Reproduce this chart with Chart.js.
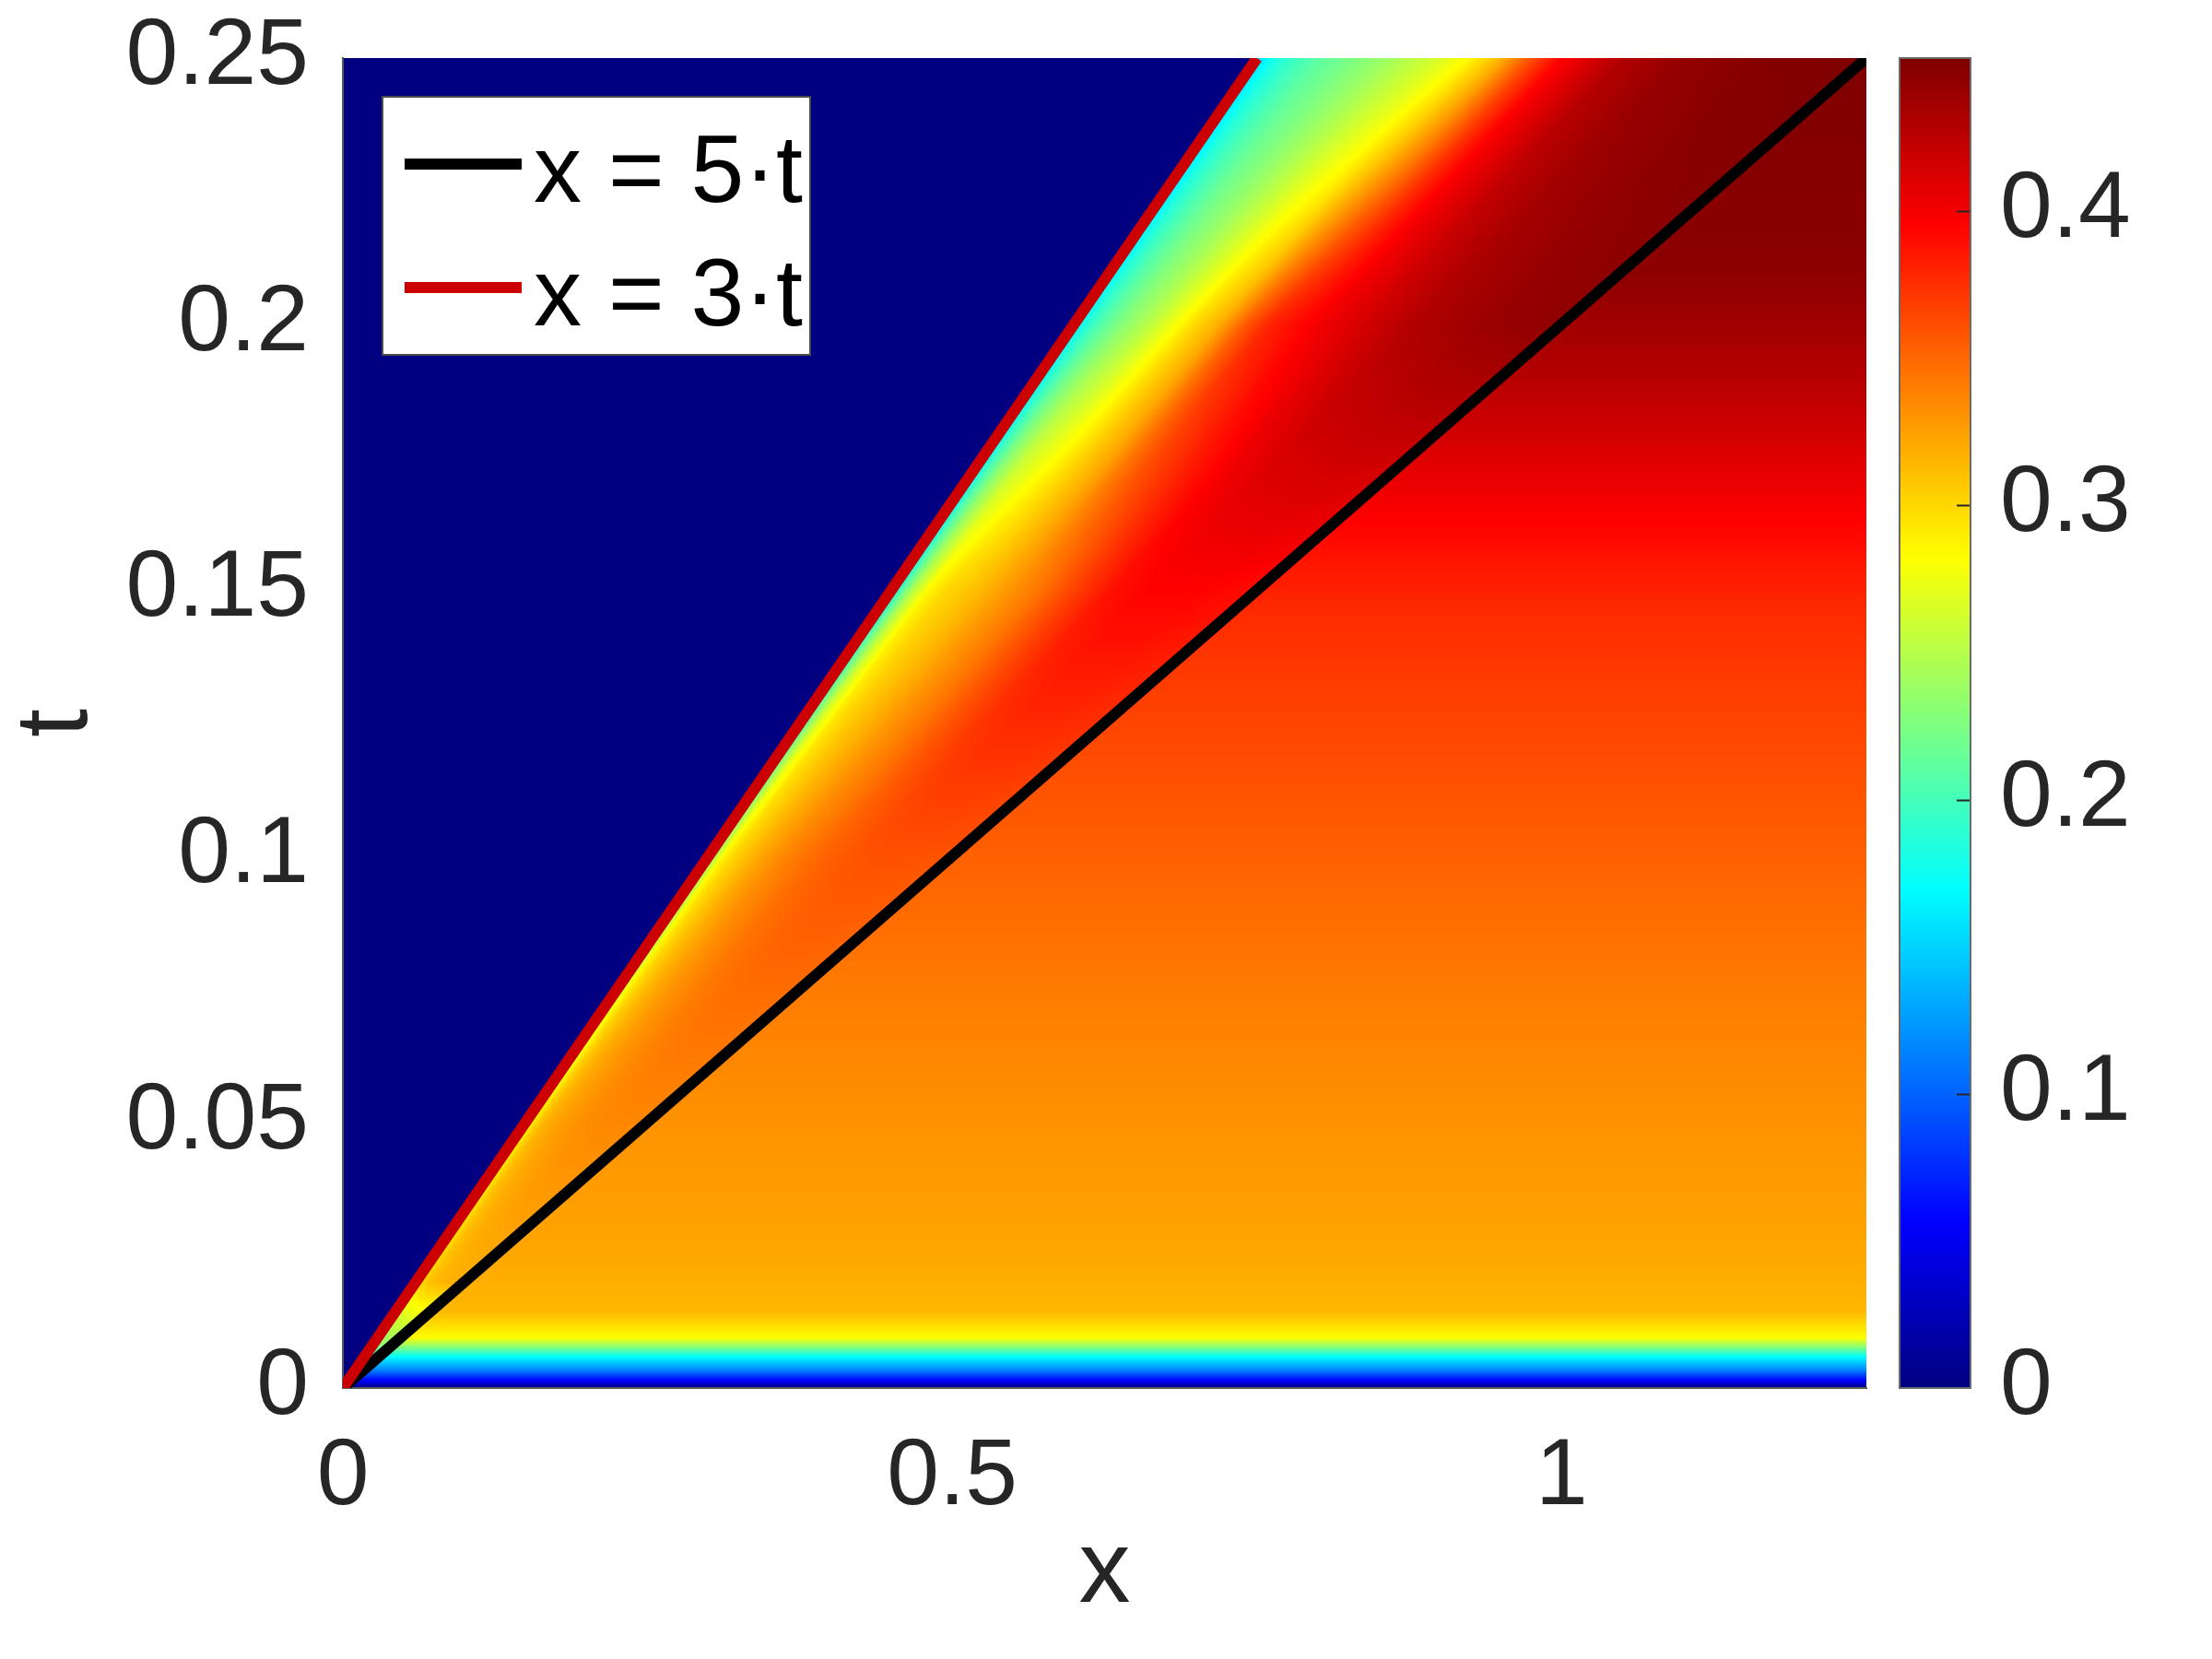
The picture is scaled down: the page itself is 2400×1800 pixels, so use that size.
<!DOCTYPE html>
<html>
<head>
<meta charset="utf-8">
<script src="https://cdn.jsdelivr.net/npm/chart.js@4.4.0/dist/chart.umd.min.js"></script>
<style>
  html, body { margin: 0; padding: 0; background: #fff; }
  #wrap { width: 2400px; height: 1800px; }
</style>
</head>
<body>
<div id="wrap"><canvas id="chart" width="2400" height="1800"></canvas></div>
<script>
// axes
const xRange = [0, 1.25];
const tRange = [0, 0.25];
const cRange = [0, 0.452];
const xTicks = [0, 0.5, 1];
const tTicks = [0, 0.05, 0.1, 0.15, 0.2, 0.25];
const cTicks = [0, 0.1, 0.2, 0.3, 0.4];

// the two reference lines
const line5t = [{x: 0, y: 0}, {x: 1.25, y: 0.25}];
const line3t = [{x: 0, y: 0}, {x: 0.75, y: 0.25}];

// u(t) to the right of x = 5t (no change along x there)
const bandT = [0, 0.0014, 0.0033, 0.0059, 0.0076, 0.0095, 0.0144, 0.025, 0.05, 0.075, 0.1, 0.125, 0.145, 0.155, 0.165, 0.175, 0.19, 0.21, 0.25];
const bandU = [0, 0.056, 0.113, 0.17, 0.226, 0.283, 0.314, 0.322, 0.331, 0.341, 0.353, 0.365, 0.376, 0.386, 0.398, 0.41, 0.428, 0.446, 0.452];

// u inside the fan 3t < x < 5t, read along s = (x - 3t) / 2t
const fanS = [0, 0.01, 0.03, 0.06, 0.1, 0.15, 0.2, 0.25, 0.3, 0.35, 0.4, 0.45, 0.5, 0.6, 0.7, 0.85, 1];
const fanT = [0, 0.008, 0.02, 0.05, 0.1, 0.15, 0.2, 0.25];
const fanAt000 = [0, 0, 0, 0, 0, 0, 0, 0, 0, 0, 0, 0, 0, 0, 0, 0, 0];
const fanAt008 = [0.1, 0.13, 0.17, 0.2, 0.215, 0.222, 0.226, 0.228, 0.229, 0.23, 0.231, 0.232, 0.232, 0.233, 0.234, 0.235, 0.235];
const fanAt020 = [0.14, 0.18, 0.24, 0.275, 0.29, 0.3, 0.305, 0.308, 0.31, 0.312, 0.313, 0.314, 0.315, 0.316, 0.317, 0.318, 0.318];
const fanAt050 = [0.15, 0.2, 0.26, 0.29, 0.305, 0.315, 0.32, 0.323, 0.326, 0.328, 0.33, 0.332, 0.333, 0.335, 0.336, 0.336, 0.335];
const fanAt100 = [0.15, 0.19, 0.25, 0.285, 0.3, 0.31, 0.32, 0.328, 0.335, 0.34, 0.345, 0.35, 0.353, 0.358, 0.36, 0.36, 0.358];
const fanAt150 = [0.15, 0.17, 0.21, 0.25, 0.285, 0.3, 0.307, 0.315, 0.325, 0.334, 0.343, 0.355, 0.367, 0.388, 0.395, 0.395, 0.39];
const fanAt200 = [0.15, 0.17, 0.19, 0.21, 0.23, 0.25, 0.275, 0.3, 0.32, 0.355, 0.38, 0.39, 0.4, 0.415, 0.43, 0.44, 0.445];
const fanAt250 = [0.15, 0.16, 0.18, 0.195, 0.21, 0.222, 0.235, 0.25, 0.265, 0.285, 0.315, 0.36, 0.395, 0.43, 0.443, 0.45, 0.452];
const fanRows = [fanAt000, fanAt008, fanAt020, fanAt050, fanAt100, fanAt150, fanAt200, fanAt250];

const FONT = '"Liberation Sans", Arial, sans-serif';
const TXT = '#262626';

function interp(xs, ys, v) {
  const n = xs.length;
  if (v <= xs[0]) return ys[0];
  if (v >= xs[n - 1]) return ys[n - 1];
  let i = 1;
  while (xs[i] < v) i++;
  const f = (v - xs[i - 1]) / (xs[i] - xs[i - 1]);
  return ys[i - 1] + f * (ys[i] - ys[i - 1]);
}

// jet colormap lookup
const JET = [];
for (let k = 0; k < 1024; k++) {
  const v = k / 1023;
  const c = a => Math.round(255 * Math.max(0, Math.min(1, a)));
  JET.push([c(1.5 - Math.abs(4 * v - 3)), c(1.5 - Math.abs(4 * v - 2)), c(1.5 - Math.abs(4 * v - 1))]);
}
function jet(u) {
  let v = (u - cRange[0]) / (cRange[1] - cRange[0]);
  v = Math.max(0, Math.min(1, v));
  return JET[Math.round(v * 1023)];
}

function fieldAt(xv, t, ub, row) {
  if (xv <= 3 * t) return 0;
  if (xv >= 5 * t) return ub;
  return interp(fanS, row, (xv - 3 * t) / (2 * t));
}

const heatmap = {
  id: 'heatmap',
  beforeDraw(chart) {
    const {ctx, chartArea: a, scales: {x, y}} = chart;
    const left = Math.round(a.left), top = Math.round(a.top);
    const w = Math.round(a.right) - left, h = Math.round(a.bottom) - top;
    const img = ctx.createImageData(w, h);
    const d = img.data;
    const xs = new Float64Array(w);
    for (let i = 0; i < w; i++) xs[i] = x.getValueForPixel(left + i + 0.5);
    const fanCols = fanS.map((_, k) => fanRows.map(r => r[k]));
    const row = new Array(fanS.length);
    for (let j = 0; j < h; j++) {
      const t = y.getValueForPixel(top + j + 0.5);
      const ub = interp(bandT, bandU, t);
      for (let k = 0; k < fanS.length; k++) row[k] = interp(fanT, fanCols[k], t);
      for (let i = 0; i < w; i++) {
        const c = jet(fieldAt(xs[i], t, ub, row));
        const p = (j * w + i) * 4;
        d[p] = c[0]; d[p + 1] = c[1]; d[p + 2] = c[2]; d[p + 3] = 255;
      }
    }
    ctx.putImageData(img, left, top);
  }
};

const colorbar = {
  id: 'colorbar',
  afterDraw(chart) {
    const {ctx, scales: {cb}} = chart;
    const x0 = cb.left + 36, bw = 77;
    const yTop = Math.round(cb.getPixelForValue(cRange[1]));
    const yBot = Math.round(cb.getPixelForValue(cRange[0]));
    ctx.save();
    for (let py = yTop; py < yBot; py++) {
      const c = jet(cb.getValueForPixel(py + 0.5));
      ctx.fillStyle = `rgb(${c[0]},${c[1]},${c[2]})`;
      ctx.fillRect(x0, py, bw, 1);
    }
    ctx.strokeStyle = TXT;
    ctx.lineWidth = 2;
    cTicks.forEach(v => {
      const py = Math.round(cb.getPixelForValue(v)) + 0.5;
      if (v === cRange[0]) return;
      ctx.beginPath();
      ctx.moveTo(x0 + bw - 15, py);
      ctx.lineTo(x0 + bw, py);
      ctx.stroke();
    });
    ctx.strokeStyle = '#6a6a6a';
    ctx.strokeRect(x0, yTop, bw, yBot - yTop);
    ctx.restore();
  }
};

const boxLegend = {
  id: 'boxLegend',
  afterDatasetsDraw(chart) {
    const {ctx, chartArea: a} = chart;
    const bx = a.left + 43, by = a.top + 42, bw = 464, bh = 280;
    ctx.save();
    ctx.fillStyle = '#ffffff';
    ctx.fillRect(bx, by, bw, bh);
    ctx.strokeStyle = '#4a4a4a';
    ctx.lineWidth = 2;
    ctx.strokeRect(bx, by, bw, bh);
    ctx.font = `104px ${FONT}`;
    ctx.textBaseline = 'alphabetic';
    ctx.textAlign = 'left';
    chart.data.datasets.forEach((ds, i) => {
      const ry = by + 73 + i * 134;
      ctx.strokeStyle = ds.borderColor;
      ctx.lineWidth = 12;
      ctx.beginPath();
      ctx.moveTo(bx + 24, ry);
      ctx.lineTo(bx + 151, ry);
      ctx.stroke();
      ctx.fillStyle = '#000000';
      ctx.fillText(ds.label, bx + 164, ry + 41);
    });
    ctx.restore();
  }
};

function noPad(s) {
  s.paddingTop = 0; s.paddingBottom = 0; s.paddingLeft = 0; s.paddingRight = 0;
}

new Chart(document.getElementById('chart'), {
  type: 'scatter',
  data: {
    datasets: [
      {label: 'x = 5·t', data: line5t, showLine: true, borderColor: '#000000', borderWidth: 12, pointRadius: 0, order: 2},
      {label: 'x = 3·t', data: line3t, showLine: true, borderColor: '#cc0000', borderWidth: 12, pointRadius: 0, order: 1}
    ]
  },
  options: {
    responsive: false,
    animation: false,
    events: [],
    layout: {padding: {top: 63, right: 88, bottom: 0, left: 0}},
    plugins: {legend: {display: false}, tooltip: {enabled: false}},
    scales: {
      x: {
        type: 'linear', min: xRange[0], max: xRange[1],
        afterBuildTicks: s => { s.ticks = xTicks.map(v => ({value: v})); },
        afterFit: s => { s.height = 294; noPad(s); },
        grid: {display: false, drawTicks: false},
        border: {display: true, color: '#5a5a5a', width: 2},
        ticks: {padding: 37, color: TXT, font: {family: FONT, size: 102}, maxRotation: 0, autoSkip: false, callback: v => String(v)},
        title: {display: true, text: 'x', color: TXT, font: {family: FONT, size: 112}, padding: {top: 0, bottom: 26}}
      },
      y: {
        type: 'linear', min: tRange[0], max: tRange[1],
        afterBuildTicks: s => { s.ticks = tTicks.map(v => ({value: v})); },
        afterFit: s => { s.width = 372; noPad(s); },
        grid: {display: false, drawTicks: false},
        border: {display: true, color: '#5a5a5a', width: 2},
        ticks: {padding: 37, color: TXT, font: {family: FONT, size: 102}, autoSkip: false, callback: v => String(v)},
        title: {display: true, text: 't', color: TXT, font: {family: FONT, size: 112, lineHeight: 1}, padding: {top: 7, bottom: 0}}
      },
      cb: {
        type: 'linear', position: 'right', min: cRange[0], max: cRange[1],
        afterBuildTicks: s => { s.ticks = cTicks.map(v => ({value: v})); },
        afterFit: s => { s.width = 287; noPad(s); },
        grid: {display: false, drawTicks: false},
        border: {display: false},
        ticks: {padding: 145, color: TXT, font: {family: FONT, size: 102}, autoSkip: false, callback: v => String(v)}
      }
    }
  },
  plugins: [heatmap, colorbar, boxLegend]
});
</script>
</body>
</html>
